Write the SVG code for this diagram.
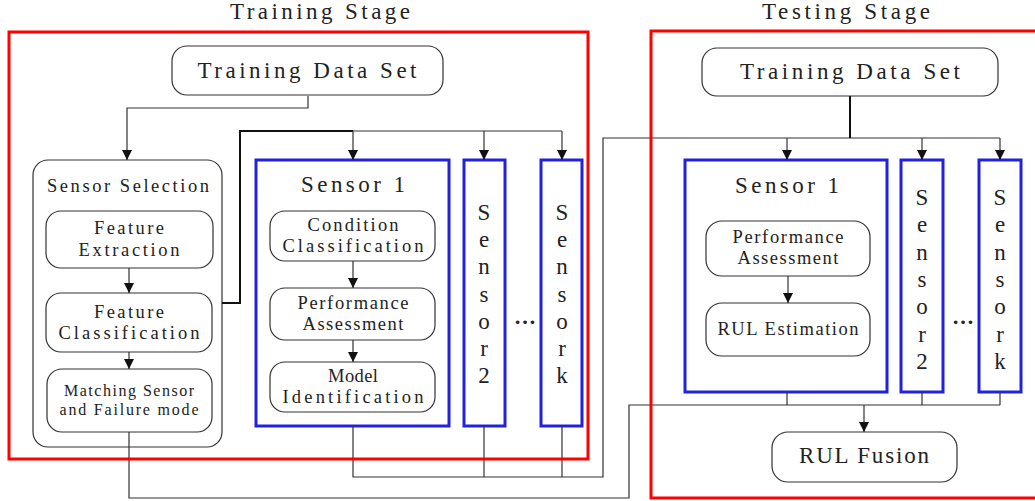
<svg xmlns="http://www.w3.org/2000/svg" width="1035" height="501" viewBox="0 0 1035 501">
<style>
text{font-family:"Liberation Serif","DejaVu Serif",serif;fill:#222;text-anchor:middle}
.t21{font-size:23px}
.t17{font-size:18.5px}
.t14{font-size:16px}
.t22{font-size:23px}
.dots{font-size:22px;font-weight:bold}
.stage{fill:none;stroke:#ff0000;stroke-width:3}
.sensor{fill:none;stroke:#2222dd;stroke-width:3}
.rbox{fill:#fff;stroke:#333;stroke-width:1.2}
.ln{fill:none;stroke:#333;stroke-width:1.2}
.ln2{fill:none;stroke:#111;stroke-width:2}
</style>
<defs>
<marker id="arr" viewBox="0 0 10 12" refX="10" refY="6" markerWidth="10" markerHeight="12" markerUnits="userSpaceOnUse" orient="auto">
<path d="M0,1 L10,6 L0,11 Z" fill="#111"/>
</marker>
</defs>

<g id="train-data-set">
<rect class="rbox" x="172" y="46" width="271" height="49" rx="15"/>
<text class="t21" x="307" y="78" textLength="219" lengthAdjust="spacing">Training Data Set</text>
</g>
<g id="sensor-selection">
<rect class="rbox" x="33" y="160" width="189" height="287" rx="15"/>
<text class="t17" x="128" y="192" textLength="162" lengthAdjust="spacing">Sensor Selection</text>
</g>
<g id="feature-extraction">
<rect class="rbox" x="46" y="211" width="167" height="57" rx="15"/>
<text class="t17" x="129" y="234" textLength="70" lengthAdjust="spacing">Feature</text>
<text class="t17" x="129" y="256" textLength="101" lengthAdjust="spacing">Extraction</text>
</g>
<g id="feature-classification">
<rect class="rbox" x="46" y="293" width="166" height="59" rx="15"/>
<text class="t17" x="129" y="318" textLength="70" lengthAdjust="spacing">Feature</text>
<text class="t17" x="129" y="339" textLength="141" lengthAdjust="spacing">Classification</text>
</g>
<g id="matching">
<rect class="rbox" x="47" y="369" width="165" height="63" rx="15"/>
<text class="t14" x="129" y="396" textLength="130" lengthAdjust="spacing">Matching Sensor</text>
<text class="t14" x="129" y="415" textLength="139" lengthAdjust="spacing">and Failure mode</text>
</g>

<g id="train-sensor1">
<rect class="sensor" x="256" y="160" width="193" height="266"/>
<text class="t21" x="353" y="192" textLength="104" lengthAdjust="spacing">Sensor 1</text>
</g>
<g id="condition-classification">
<rect class="rbox" x="270" y="211" width="165" height="50" rx="15"/>
<text class="t17" x="353" y="231" textLength="91" lengthAdjust="spacing">Condition</text>
<text class="t17" x="353" y="252" textLength="141" lengthAdjust="spacing">Classification</text>
</g>
<g id="train-performance">
<rect class="rbox" x="270" y="288" width="165" height="52" rx="15"/>
<text class="t17" x="353" y="309" textLength="111" lengthAdjust="spacing">Performance</text>
<text class="t17" x="353" y="330" textLength="101" lengthAdjust="spacing">Assessment</text>
</g>
<g id="model-identification">
<rect class="rbox" x="270" y="362" width="165" height="50" rx="15"/>
<text class="t17" x="353" y="382" textLength="50" lengthAdjust="spacing">Model</text>
<text class="t17" x="353" y="403" textLength="141" lengthAdjust="spacing">Identification</text>
</g>
<g id="train-sensor2">
<rect class="sensor" x="464" y="160" width="41" height="266"/>
<text class="t22" x="484" y="220">S</text><text class="t22" x="484" y="247">e</text><text class="t22" x="484" y="274">n</text><text class="t22" x="484" y="302">s</text><text class="t22" x="484" y="329">o</text><text class="t22" x="484" y="356">r</text><text class="t22" x="484" y="383">2</text>
</g>
<text class="dots" x="525" y="324">…</text>
<g id="train-sensork">
<rect class="sensor" x="541" y="160" width="41" height="266"/>
<text class="t22" x="562" y="220">S</text><text class="t22" x="562" y="247">e</text><text class="t22" x="562" y="274">n</text><text class="t22" x="562" y="302">s</text><text class="t22" x="562" y="329">o</text><text class="t22" x="562" y="356">r</text><text class="t22" x="562" y="383">k</text>
</g>

<g id="test-data-set">
<rect class="rbox" x="702" y="48" width="296" height="48" rx="15"/>
<text class="t21" x="850" y="79" textLength="220" lengthAdjust="spacing">Training Data Set</text>
</g>
<g id="test-sensor1">
<rect class="sensor" x="685" y="160" width="202" height="232"/>
<text class="t21" x="787" y="193" textLength="104" lengthAdjust="spacing">Sensor 1</text>
</g>
<g id="test-performance">
<rect class="rbox" x="706" y="221" width="164" height="55" rx="16"/>
<text class="t17" x="788" y="243" textLength="111" lengthAdjust="spacing">Performance</text>
<text class="t17" x="788" y="264" textLength="101" lengthAdjust="spacing">Assessment</text>
</g>
<g id="rul-estimation">
<rect class="rbox" x="706" y="303" width="164" height="53" rx="16"/>
<text class="t17" x="788" y="335" textLength="141" lengthAdjust="spacing">RUL Estimation</text>
</g>
<g id="test-sensor2">
<rect class="sensor" x="901" y="160" width="42" height="232"/>
<text class="t22" x="922" y="205">S</text><text class="t22" x="922" y="232">e</text><text class="t22" x="922" y="260">n</text><text class="t22" x="922" y="287">s</text><text class="t22" x="922" y="314">o</text><text class="t22" x="922" y="342">r</text><text class="t22" x="922" y="369">2</text>
</g>
<text class="dots" x="963" y="324">…</text>
<g id="test-sensork">
<rect class="sensor" x="979" y="160" width="42" height="232"/>
<text class="t22" x="1000" y="205">S</text><text class="t22" x="1000" y="232">e</text><text class="t22" x="1000" y="260">n</text><text class="t22" x="1000" y="287">s</text><text class="t22" x="1000" y="314">o</text><text class="t22" x="1000" y="342">r</text><text class="t22" x="1000" y="369">k</text>
</g>
<g id="rul-fusion">
<rect class="rbox" x="772" y="432" width="185" height="50" rx="16"/>
<text class="t21" x="864" y="463" textLength="130" lengthAdjust="spacing">RUL Fusion</text>
</g>

<g id="connectors">
<path class="ln" d="M308,96 V108 H127 V160" marker-end="url(#arr)"/>
<path class="ln" d="M129,268 V293" marker-end="url(#arr)"/>
<path class="ln" d="M129,352 V369" marker-end="url(#arr)"/>
<path class="ln2" d="M222,303 H240 V131 H353"/>
<path class="ln" d="M353,131 H562"/>
<path class="ln" d="M353,131 V160" marker-end="url(#arr)"/>
<path class="ln" d="M484,131 V160" marker-end="url(#arr)"/>
<path class="ln" d="M562,131 V160" marker-end="url(#arr)"/>
<path class="ln" d="M353,261 V288" marker-end="url(#arr)"/>
<path class="ln" d="M353,340 V362" marker-end="url(#arr)"/>
<path class="ln" d="M353,426 V477 H603 V138 H1000"/>
<path class="ln" d="M484,426 V477 M562,426 V477"/>
<path class="ln2" d="M850,96 V138"/>
<path class="ln" d="M787,138 V160" marker-end="url(#arr)"/>
<path class="ln" d="M922,138 V160" marker-end="url(#arr)"/>
<path class="ln" d="M1000,138 V160" marker-end="url(#arr)"/>
<path class="ln" d="M788,276 V303" marker-end="url(#arr)"/>
<path class="ln" d="M129,432 V498 H629 V405 H1000"/>
<path class="ln" d="M787,392 V405 M922,392 V405 M1000,392 V405"/>
<path class="ln" d="M864,405 V432" marker-end="url(#arr)"/>
</g>

<g id="training-stage">
<rect class="stage" x="9" y="32" width="579" height="427"/>
<text class="t21" x="320" y="19" textLength="180" lengthAdjust="spacing">Training Stage</text>
</g>
<g id="testing-stage">
<rect class="stage" x="651" y="31" width="400" height="467"/>
<text class="t21" x="846" y="19" textLength="168" lengthAdjust="spacing">Testing Stage</text>
</g>
</svg>
